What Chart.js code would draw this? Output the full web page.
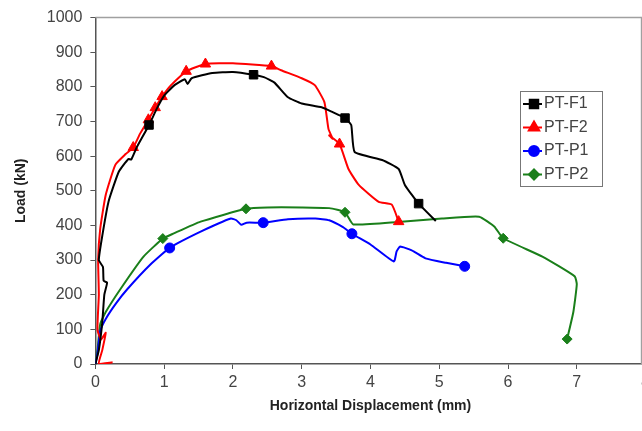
<!DOCTYPE html>
<html>
<head>
<meta charset="utf-8">
<script src="https://cdn.jsdelivr.net/npm/chart.js@4"></script>
<style>
    body { margin: 0; background: #fff; overflow: hidden; }
    #wrap { width: 654px; height: 431px; }
</style>
</head>
<body>
<div id="wrap"><canvas id="chart"></canvas></div>
<script>
// PT-F1
const f1Disp = [0, 0.05, 0.1, 0.13, 0.17, 0.12, 0.11, 0.05, 0.1, 0.19, 0.34, 0.48, 0.52, 0.6, 0.78, 0.9, 1.0, 1.15, 1.3, 1.34,
    1.4, 1.7, 2.0, 2.3, 2.45, 2.6, 2.8, 3.0, 3.29, 3.45, 3.63, 3.72, 3.77, 4.17, 4.41, 4.5, 4.7, 4.95]
const f1Load = [0, 40, 120, 200, 235, 240, 280, 300, 370, 468, 555, 592, 590, 625, 690, 740, 775, 805, 822, 808,
    825, 840, 843, 835, 828, 813, 770, 752, 741, 727, 710, 690, 612, 589, 563, 517, 463, 413]
const f1Marks = [14, 23, 30, 36]

// PT-F2
const f2Disp = [0.25, 0.05, 0.1, 0.15, 0.08, 0.03, 0.05, 0.04, 0.07, 0.15, 0.29, 0.44, 0.55, 0.65, 0.77, 0.87, 0.97, 1.1, 1.32, 1.6,
    2.0, 2.56, 2.7, 3.0, 3.19, 3.33, 3.39, 3.45, 3.4, 3.55, 3.68, 3.83, 4.12, 4.31, 4.41]
const f2Load = [5, 0, 40, 90, 70, 100, 200, 300, 390, 488, 575, 606, 625, 665, 705, 740, 772, 805, 845, 866,
    868, 860, 848, 825, 805, 756, 678, 650, 660, 635, 563, 517, 468, 460, 411]
const f2Marks = [12, 14, 15, 16, 18, 19, 21, 29, 34]

// PT-P1
const p1Disp = [0, 0.03, 0.07, 0.15, 0.3, 0.46, 0.8, 1.08, 1.53, 1.97, 2.05, 2.12, 2.2, 2.44, 2.8, 3.2, 3.4, 3.6, 3.73, 4.0,
    4.34, 4.38, 4.43, 4.6, 4.8, 5.1, 5.37]
const p1Load = [0, 30, 95, 130, 175, 215, 287, 335, 382, 420, 415, 402, 408, 408, 418, 420, 415, 395, 376, 345,
    296, 325, 339, 328, 305, 292, 282]
const p1Marks = [7, 13, 18, 26]

// PT-P2
const p2Disp = [0, 0.03, 0.07, 0.15, 0.37, 0.7, 0.98, 1.14, 1.53, 2.19, 2.5, 3.0, 3.4, 3.63, 3.75, 4.4, 5.04, 5.58, 5.8, 5.93,
    6.5, 6.97, 7.0, 6.95, 6.86]
const p2Load = [0, 40, 115, 150, 218, 310, 362, 377, 411, 448, 452, 452, 450, 438, 403, 410, 420, 425, 397, 363,
    310, 253, 230, 150, 72]
const p2Marks = [6, 9, 13, 19, 24]

const seriesLabels = ['PT-F1', 'PT-F2', 'PT-P1', 'PT-P2']
const seriesColors = ['#000000', '#ff0000', '#0000ff', '#1a7f1a']
const seriesShapes = ['rect', 'triangle', 'circle', 'rectRot']
const markSizes = [6, 6, 5, 5]

const series = [
    [f1Disp, f1Load, f1Marks],
    [f2Disp, f2Load, f2Marks],
    [p1Disp, p1Load, p1Marks],
    [p2Disp, p2Load, p2Marks]
]

const datasets = series.map(([xs, ys, marks], i) => ({
    label: seriesLabels[i],
    data: xs.map((x, j) => ({ x: x, y: ys[j] })),
    borderColor: seriesColors[i],
    backgroundColor: seriesColors[i],
    borderWidth: 2,
    tension: 0.15,
    pointStyle: seriesShapes[i],
    pointRadius: ctx => marks.includes(ctx.dataIndex) ? markSizes[i] : 0,
    pointHoverRadius: 0,
    pointBorderWidth: 1
}))

// frame on top/right plus the boxed legend inside the plot
const framePlugin = {
    id: 'frame',
    beforeDatasetsDraw(chart) {
        const { ctx, chartArea: a } = chart
        ctx.save()
        ctx.strokeStyle = '#a0a0a0'
        ctx.lineWidth = 1.5
        ctx.beginPath()
        ctx.moveTo(a.left, a.top)
        ctx.lineTo(a.right - 4, a.top)
        ctx.lineTo(a.right - 4, a.bottom)
        ctx.stroke()
        ctx.restore()
    },
    afterDraw(chart) {
        const ctx = chart.ctx
        const x0 = 520, y0 = 91, w = 82, h = 95
        ctx.save()
        ctx.fillStyle = '#fff'
        ctx.fillRect(x0, y0, w, h)
        ctx.strokeStyle = '#777'
        ctx.lineWidth = 1
        ctx.strokeRect(x0 + 0.5, y0 + 0.5, w, h)
        ctx.font = '16px Arial, "Liberation Sans", sans-serif'
        ctx.textBaseline = 'middle'
        seriesLabels.forEach((lab, i) => {
            const y = y0 + 13 + i * 23.5
            ctx.strokeStyle = seriesColors[i]
            ctx.lineWidth = 2
            ctx.beginPath()
            ctx.moveTo(x0 + 3, y)
            ctx.lineTo(x0 + 22, y)
            ctx.stroke()
            ctx.fillStyle = seriesColors[i]
            Chart.helpers.drawPoint(ctx, { pointStyle: seriesShapes[i], radius: markSizes[i], rotation: 0, borderWidth: 1 }, x0 + 14, y)
            ctx.fillStyle = '#444'
            ctx.fillText(lab, x0 + 24, y)
        })
        ctx.restore()
    }
}

const tickFont = { family: 'Arial, "Liberation Sans", sans-serif', size: 16 }
const titleFont = { family: 'Arial, "Liberation Sans", sans-serif', size: 14, weight: 'bold' }

new Chart(document.getElementById('chart'), {
    type: 'line',
    data: { datasets: datasets },
    options: {
        responsive: true,
        maintainAspectRatio: false,
        animation: false,
        layout: { padding: { left: 13, top: 5, right: 0, bottom: 12 } },
        plugins: {
            legend: { display: false },
            tooltip: { enabled: false }
        },
        scales: {
            x: {
                type: 'linear',
                min: 0,
                max: 8,
                ticks: { stepSize: 1, color: '#444', font: tickFont, padding: 4, callback: v => String(v) },
                grid: { drawOnChartArea: false, drawTicks: true, tickLength: 5, color: '#555' },
                border: { display: true, color: '#555', width: 1.5 },
                title: { display: true, text: 'Horizontal Displacement (mm)', color: '#222', font: titleFont, padding: { top: 2 } }
            },
            y: {
                type: 'linear',
                min: 0,
                max: 1000,
                ticks: { stepSize: 100, color: '#444', font: tickFont, padding: 8, callback: v => String(v) },
                grid: { drawOnChartArea: false, drawTicks: true, tickLength: 5, color: '#555' },
                border: { display: true, color: '#555', width: 1.5 },
                title: { display: true, text: 'Load (kN)', color: '#222', font: titleFont, padding: { top: 0, bottom: 9 } }
            }
        }
    },
    plugins: [framePlugin]
})
</script>
</body>
</html>
